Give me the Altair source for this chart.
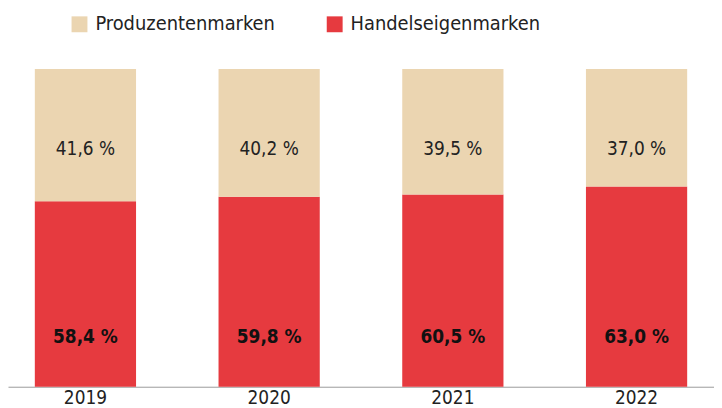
import altair as alt
import pandas as pd

years = ["2019", "2020", "2021", "2022"]
handelseigen = [58.4, 59.8, 60.5, 63.0]
produzenten = [41.6, 40.2, 39.5, 37.0]
series = ["Produzentenmarken", "Handelseigenmarken"]
colors = ["#EBD5B1", "#E63A3F"]


def fmt(v):
    return f"{v:.1f} %".replace(".", ",")


rows = []
for y, h, p in zip(years, handelseigen, produzenten):
    rows.append({"Jahr": y, "Marke": "Handelseigenmarken", "Anteil": h, "ord": 0, "label": fmt(h)})
    rows.append({"Jahr": y, "Marke": "Produzentenmarken", "Anteil": p, "ord": 1, "label": fmt(p)})
df = pd.DataFrame(rows)

FONT = "'DejaVu Sans Condensed', 'Roboto Condensed', Roboto, sans-serif"

x = alt.X(
    "Jahr:N",
    sort=years,
    scale=alt.Scale(paddingInner=0.449, paddingOuter=0.146),
    axis=alt.Axis(
        title=None, labelAngle=0, domainColor="#9a9a9a", domainWidth=1,
        ticks=False, labelFontSize=19, labelFont=FONT, labelFontWeight=300,
        labelColor="#222222", labelPadding=2,
    ),
)

bars = alt.Chart(df).mark_bar().encode(
    x=x,
    y=alt.Y("Anteil:Q", stack="zero", scale=alt.Scale(domain=[0, 100]), axis=None),
    color=alt.Color(
        "Marke:N",
        scale=alt.Scale(domain=series, range=colors),
        legend=alt.Legend(
            title=None, orient="none", direction="horizontal",
            legendX=62, legendY=-55, symbolType="square", symbolSize=256,
            symbolStrokeWidth=0, symbolOpacity=1, labelFont=FONT, labelFontSize=20,
            labelFontWeight=300, labelColor="#222222", labelOffset=6,
            columnPadding=50, padding=0, labelLimit=300,
        ),
    ),
    order=alt.Order("ord:Q"),
)

tan_text = alt.Chart(df).transform_filter(
    alt.datum.Marke == "Produzentenmarken"
).mark_text(font=FONT, fontSize=19, fontWeight=300, color="#222222", baseline="middle").encode(
    x=alt.X("Jahr:N", sort=years), y=alt.value(81), text="label:N"
)

red_text = alt.Chart(df).transform_filter(
    alt.datum.Marke == "Handelseigenmarken"
).mark_text(font=FONT, fontSize=19, fontWeight="bold", color="#111111", baseline="middle").encode(
    x=alt.X("Jahr:N", sort=years), y=alt.value(270), text="label:N"
)

chart = alt.layer(bars, tan_text, red_text).properties(
    width=711, height=320,
    background="white",
    autosize=alt.AutoSizeParams(type="none"),
    padding={"left": 0, "top": 60, "right": 0, "bottom": 20},
).configure_view(stroke=None)

chart.save("out.html", embed_options={"renderer": "svg", "actions": False})
